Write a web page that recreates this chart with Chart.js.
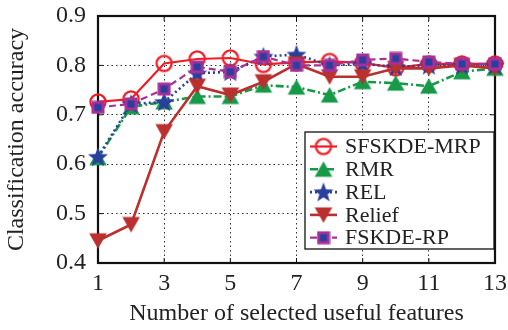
<!DOCTYPE html>
<html><head><meta charset="utf-8">
<script src="https://cdn.jsdelivr.net/npm/chart.js@4"></script>
<style>html,body{margin:0;padding:0;background:#fff}#wrap{width:508px;height:330px}</style>
</head><body><div id="wrap"><canvas id="c" width="508" height="330"></canvas></div>
<script>
// ---- data ----
const features = [1,2,3,4,5,6,7,8,9,10,11,12,13];
const sfskdeMrp = [0.726,0.732,0.804,0.813,0.815,0.802,0.806,0.808,0.805,0.795,0.803,0.803,0.803];
const rmr       = [0.613,0.716,0.726,0.737,0.737,0.760,0.756,0.740,0.767,0.764,0.758,0.787,0.794];
const rel       = [0.615,0.722,0.726,0.784,0.787,0.818,0.822,0.800,0.803,0.797,0.800,0.800,0.800];
const relief    = [0.445,0.478,0.666,0.758,0.740,0.767,0.803,0.777,0.777,0.794,0.794,0.800,0.794];
const fskdeRp   = [0.715,0.722,0.752,0.797,0.787,0.818,0.800,0.800,0.811,0.814,0.807,0.803,0.803];
const seriesNames = ['SFSKDE-MRP','RMR','REL','Relief','FSKDE-RP'];
const xTickValues = [1,3,5,7,9,11,13];
const yTickValues = [0.4,0.5,0.6,0.7,0.8,0.9];
const xTitle = 'Number of selected useful features';
const yTitle = 'Classification accuracy';

const FONT = "'Liberation Serif','Times New Roman',serif";
const C_RED = '#ee1d25', C_GREEN = '#179a48', C_BLUE = '#283f9b', C_RELIEF = '#b9302e', C_MAG = '#a6309b';

function mk(size, draw){ const c=document.createElement('canvas'); c.width=c.height=size; draw(c.getContext('2d'), size); return c; }
const imgCircle = mk(22,(g)=>{g.strokeStyle=C_RED;g.lineWidth=2.2;g.beginPath();g.arc(11,11,7.6,0,Math.PI*2);g.stroke();});
const imgTriUp = mk(20,(g)=>{g.fillStyle=C_GREEN;g.beginPath();g.moveTo(10,2);g.lineTo(18.8,17.5);g.lineTo(1.2,17.5);g.closePath();g.fill();});
const imgTriDown = mk(20,(g)=>{g.fillStyle=C_RELIEF;g.beginPath();g.moveTo(1.2,2.5);g.lineTo(18.8,2.5);g.lineTo(10,18);g.closePath();g.fill();});
const imgSquare = mk(14,(g)=>{g.fillStyle=C_MAG;g.fillRect(0.5,0.5,13,13);g.fillStyle=C_BLUE;g.fillRect(3.5,3.5,7,7);});
const imgStar = mk(22,(g)=>{g.fillStyle=C_BLUE;g.beginPath();const R=10.5,r=4.4,cx=11,cy=11.8;for(let i=0;i<10;i++){const a=-Math.PI/2+i*Math.PI/5;const rr=i%2?r:R;g.lineTo(cx+rr*Math.cos(a),cy+rr*Math.sin(a));}g.closePath();g.fill();});

const styles = [
  {color:C_RED, dash:[], width:2.2, img:imgCircle},
  {color:C_GREEN, dash:[8,3,2,3], width:2.6, img:imgTriUp},
  {color:C_BLUE, dash:[2,3], width:2.6, img:imgStar},
  {color:C_RELIEF, dash:[], width:2.6, img:imgTriDown},
  {color:C_MAG, dash:[7,4], width:2.2, img:imgSquare}
];
const seriesValues = [sfskdeMrp, rmr, rel, relief, fskdeRp];
const orders = [5,4,3,2,1];

const datasets = seriesValues.map((vals,i)=>({
  label: seriesNames[i],
  data: features.map((x,j)=>({x:x,y:vals[j]})),
  borderColor: styles[i].color,
  backgroundColor: styles[i].color,
  borderWidth: styles[i].width,
  borderDash: styles[i].dash,
  pointStyle: styles[i].img,
  pointRadius: 8,
  pointHoverRadius: 8,
  tension: 0,
  clip: false,
  order: orders[i]
}));

const framePlugin = {
  id:'frame',
  beforeDatasetsDraw(chart){
    const {ctx, chartArea:a, scales} = chart;
    ctx.save();
    ctx.strokeStyle='#111'; ctx.lineWidth=1;
    xTickValues.forEach(v=>{const px=scales.x.getPixelForValue(v);
      ctx.beginPath();ctx.moveTo(px,a.bottom);ctx.lineTo(px,a.bottom-5);ctx.moveTo(px,a.top);ctx.lineTo(px,a.top+5);ctx.stroke();});
    yTickValues.forEach(v=>{const py=scales.y.getPixelForValue(v);
      ctx.beginPath();ctx.moveTo(a.left,py);ctx.lineTo(a.left+5,py);ctx.moveTo(a.right,py);ctx.lineTo(a.right-5,py);ctx.stroke();});
    ctx.lineWidth=2.2; ctx.strokeStyle='#111';
    ctx.strokeRect(a.left,a.top,a.right-a.left,a.bottom-a.top);
    ctx.restore();
  },
  afterDraw(chart){
    const {ctx} = chart;
    const bx=305, by=132, bw=189, bh=117;
    ctx.save();
    ctx.fillStyle='#fff'; ctx.fillRect(bx,by,bw,bh);
    ctx.strokeStyle='#111'; ctx.lineWidth=1.3; ctx.strokeRect(bx,by,bw,bh);
    const rowH = 22.8, y0 = 146.5;
    seriesNames.forEach((name,i)=>{
      const y = y0 + i*rowH, s = styles[i];
      ctx.save();
      ctx.strokeStyle=s.color; ctx.lineWidth=s.width; ctx.setLineDash(s.dash);
      ctx.beginPath(); ctx.moveTo(310,y); ctx.lineTo(337,y); ctx.stroke();
      ctx.restore();
      ctx.drawImage(s.img, 323.5 - s.img.width/2, y - s.img.height/2);
      ctx.fillStyle='#222'; ctx.font='22px '+FONT; ctx.textBaseline='middle'; ctx.textAlign='left';
      ctx.fillText(name, 345, y+1);
    });
    ctx.restore();
  }
};

new Chart(document.getElementById('c'), {
  type:'line',
  data:{datasets},
  options:{
    responsive:false, devicePixelRatio:1, animation:false,
    layout:{padding:{left:0,right:13,top:16,bottom:0}},
    plugins:{legend:{display:false}, tooltip:{enabled:false}},
    scales:{
      x:{
        type:'linear', min:1, max:13,
        afterBuildTicks(s){ s.ticks = xTickValues.map(v=>({value:v})); },
        afterFit(s){ s.height = 67; s.paddingLeft = 0; s.paddingRight = 0; },
        ticks:{font:{family:FONT,size:24}, color:'#222', padding:6, maxRotation:0, callback:v=>String(v)},
        grid:{color:'#333', lineWidth:1, drawTicks:false},
        border:{display:false, dash:[1.5,3]},
        title:{display:true, text:xTitle, font:{family:FONT,size:24}, color:'#222', padding:{top:0,bottom:2}}
      },
      y:{
        min:0.4, max:0.9,
        afterBuildTicks(s){ s.ticks = yTickValues.map(v=>({value:v})); },
        afterFit(s){ s.width = 98; s.paddingTop = 0; s.paddingBottom = 0; },
        ticks:{font:{family:FONT,size:24}, color:'#222', padding:12, callback:v=>v.toFixed(1)},
        grid:{color:'#333', lineWidth:1, drawTicks:false},
        border:{display:false, dash:[1.5,3]},
        title:{display:true, text:yTitle, font:{family:FONT,size:24}, color:'#222', padding:{top:2,bottom:0}}
      }
    }
  },
  plugins:[framePlugin]
});
</script>
</body></html>
